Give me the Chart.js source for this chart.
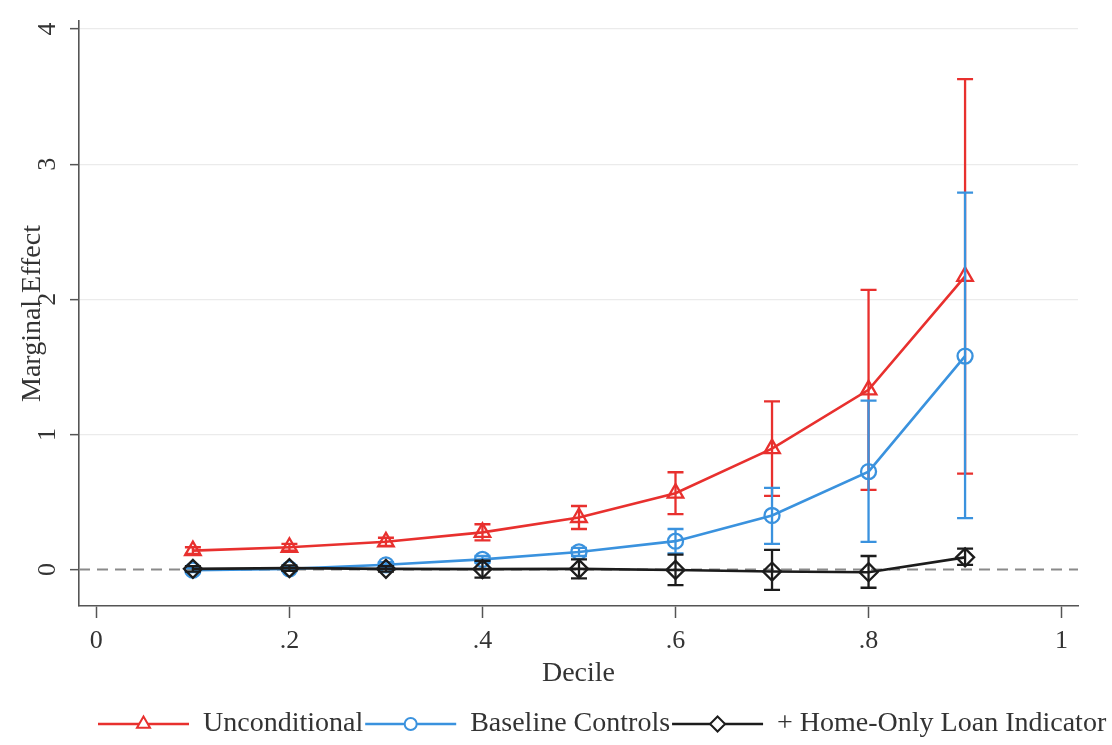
<!DOCTYPE html>
<html>
<head>
<meta charset="utf-8">
<script src="https://cdn.jsdelivr.net/npm/chart.js@4"></script>
<style>
html,body{margin:0;padding:0;background:#fff;}
#wrap{width:1112px;height:745px;position:relative;}
</style>
</head>
<body>
<div id="wrap"><canvas id="c"></canvas></div>
<script>
// ---- data ----
const deciles = [0.1, 0.2, 0.3, 0.4, 0.5, 0.6, 0.7, 0.8, 0.9];

const uncondMean = [0.14, 0.165, 0.205, 0.275, 0.385, 0.565, 0.895, 1.33, 2.17];
const uncondLo   = [0.115, 0.14, 0.175, 0.215, 0.30, 0.41, 0.545, 0.59, 0.71];
const uncondHi   = [0.165, 0.19, 0.235, 0.335, 0.47, 0.72, 1.245, 2.07, 3.63];

const baseMean = [-0.005, 0.005, 0.035, 0.075, 0.13, 0.21, 0.40, 0.725, 1.58];
const baseLo   = [-0.02, -0.01, 0.015, 0.05, 0.10, 0.12, 0.19, 0.205, 0.38];
const baseHi   = [0.01, 0.02, 0.055, 0.10, 0.16, 0.30, 0.605, 1.25, 2.79];

const homeMean = [0.005, 0.01, 0.005, 0.003, 0.005, -0.003, -0.015, -0.02, 0.09];
const homeLo   = [-0.015, -0.01, -0.015, -0.06, -0.065, -0.115, -0.15, -0.135, 0.035];
const homeHi   = [0.025, 0.03, 0.025, 0.065, 0.075, 0.11, 0.145, 0.10, 0.155];

const seriesLabels = ['Unconditional', 'Baseline Controls', '+ Home-Only Loan Indicator'];
const xTickValues = [0, 0.2, 0.4, 0.6, 0.8, 1];
const xTickLabels = ['0', '.2', '.4', '.6', '.8', '1'];
const yTickValues = [0, 1, 2, 3, 4];
const yTickLabels = ['0', '1', '2', '3', '4'];
const xTitle = 'Decile';
const yTitle = 'Marginal Effect';

// ---- styles ----
const FONT = '"Liberation Serif", "DejaVu Serif", serif';
const TXT = '#333333';
const AX = '#555555';
const RED = '#e8302e';
const BLUE = '#3a92de';
const BLACK = '#1c1c1c';

function pts(means){ return deciles.map((x,i)=>({x:x, y:means[i]})); }

const datasets = [
  {label: seriesLabels[0], data: pts(uncondMean), lo: uncondLo, hi: uncondHi,
   borderColor: RED, backgroundColor: 'rgba(0,0,0,0)', pointStyle: 'triangle',
   pointRadius: 9, pointBorderWidth: 2.3, borderWidth: 2.6, order: 3},
  {label: seriesLabels[1], data: pts(baseMean), lo: baseLo, hi: baseHi,
   borderColor: BLUE, backgroundColor: 'rgba(0,0,0,0)', pointStyle: 'circle',
   pointRadius: 7.5, pointBorderWidth: 2.3, borderWidth: 2.6, order: 2},
  {label: seriesLabels[2], data: pts(homeMean), lo: homeLo, hi: homeHi,
   borderColor: BLACK, backgroundColor: 'rgba(0,0,0,0)', pointStyle: 'rectRot',
   pointRadius: 9, pointBorderWidth: 2.3, borderWidth: 2.6, order: 1}
];

const errorBars = {
  id: 'errorBars',
  beforeDatasetDraw(chart, args) {
    const ds = chart.data.datasets[args.index];
    const xs = chart.scales.x, ys = chart.scales.y, ctx = chart.ctx;
    ctx.save();
    ctx.strokeStyle = ds.borderColor;
    ctx.lineWidth = 2.3;
    const cap = 8;
    ds.data.forEach((p, i) => {
      const px = xs.getPixelForValue(p.x);
      const yl = ys.getPixelForValue(ds.lo[i]);
      const yh = ys.getPixelForValue(ds.hi[i]);
      ctx.beginPath();
      ctx.moveTo(px, yl); ctx.lineTo(px, yh);
      ctx.moveTo(px - cap, yl); ctx.lineTo(px + cap, yl);
      ctx.moveTo(px - cap, yh); ctx.lineTo(px + cap, yh);
      ctx.stroke();
    });
    ctx.restore();
  }
};

const zeroLine = {
  id: 'zeroLine',
  beforeDatasetsDraw(chart) {
    const {ctx, chartArea} = chart;
    const y0 = chart.scales.y.getPixelForValue(0);
    ctx.save();
    ctx.strokeStyle = '#8a8a8a';
    ctx.lineWidth = 1.8;
    ctx.setLineDash([11, 7]);
    ctx.beginPath();
    ctx.moveTo(chartArea.left, y0); ctx.lineTo(chartArea.right, y0);
    ctx.stroke();
    ctx.restore();
  }
};

const rotatedYLabels = {
  id: 'rotatedYLabels',
  afterDraw(chart) {
    const ys = chart.scales.y, ctx = chart.ctx;
    ctx.save();
    ctx.fillStyle = TXT;
    ctx.font = '26px ' + FONT;
    ctx.textAlign = 'center';
    ctx.textBaseline = 'middle';
    yTickValues.forEach((v, i) => {
      const py = ys.getPixelForValue(v);
      ctx.save();
      ctx.translate(ys.right - 31, py);
      ctx.rotate(-Math.PI / 2);
      ctx.fillText(yTickLabels[i], 0, 0);
      ctx.restore();
    });
    ctx.restore();
  }
};

function drawMarker(ctx, style, x, y, r) {
  ctx.beginPath();
  if (style === 'triangle') {
    ctx.moveTo(x, y - r);
    ctx.lineTo(x + r * 0.866, y + r * 0.5);
    ctx.lineTo(x - r * 0.866, y + r * 0.5);
    ctx.closePath();
  } else if (style === 'circle') {
    ctx.arc(x, y, r, 0, Math.PI * 2);
  } else {
    ctx.moveTo(x, y - r); ctx.lineTo(x + r, y); ctx.lineTo(x, y + r); ctx.lineTo(x - r, y); ctx.closePath();
  }
}

const customLegend = {
  id: 'customLegend',
  afterDraw(chart) {
    const ctx = chart.ctx;
    ctx.save();
    ctx.font = '28px ' + FONT;
    ctx.textBaseline = 'middle';
    ctx.textAlign = 'left';
    const y = 724;
    let x = 98;
    const lineLen = 91;
    chart.data.datasets.forEach(ds => {
      ctx.strokeStyle = ds.borderColor;
      ctx.lineWidth = 2.5;
      ctx.beginPath(); ctx.moveTo(x, y); ctx.lineTo(x + lineLen, y); ctx.stroke();
      ctx.fillStyle = '#fff';
      drawMarker(ctx, ds.pointStyle, x + lineLen / 2, y, ds.pointStyle === 'circle' ? 6 : 7.5);
      ctx.fill(); ctx.lineWidth = 2; ctx.stroke();
      ctx.fillStyle = TXT;
      const tx = x + lineLen + 14;
      ctx.fillText(ds.label, tx, y);
      x = tx + ctx.measureText(ds.label).width + 2;
    });
    ctx.restore();
  }
};

new Chart(document.getElementById('c'), {
  type: 'line',
  data: { datasets: datasets },
  plugins: [errorBars, zeroLine, rotatedYLabels, customLegend],
  options: {
    responsive: true,
    maintainAspectRatio: false,
    animation: false,
    layout: { padding: { left: 0, right: 34, top: 13, bottom: 49 } },
    plugins: { legend: { display: false }, tooltip: { enabled: false } },
    scales: {
      x: {
        type: 'linear', min: -0.018, max: 1.017,
        afterBuildTicks: s => { s.ticks = xTickValues.map(v => ({value: v})); },
        afterFit: s => { s.height = 90; },
        ticks: {
          autoSkip: false, maxRotation: 0, padding: 8, color: TXT,
          font: { family: FONT, size: 26 },
          callback: (v) => { const i = xTickValues.indexOf(v); return i >= 0 ? xTickLabels[i] : ''; }
        },
        grid: { drawOnChartArea: false, drawTicks: true, tickLength: 12, tickColor: AX, tickWidth: 1.5 },
        border: { display: true, color: AX, width: 1.6 },
        title: { display: true, text: xTitle, color: TXT, font: { family: FONT, size: 28 }, padding: { top: 0, bottom: 6 } }
      },
      y: {
        type: 'linear', min: -0.27, max: 4.06,
        afterBuildTicks: s => { s.ticks = yTickValues.map(v => ({value: v})); },
        afterFit: s => { s.width = 79; },
        ticks: { color: 'rgba(0,0,0,0)', font: { family: FONT, size: 25 }, padding: 6,
                 callback: (v) => { const i = yTickValues.indexOf(v); return i >= 0 ? yTickLabels[i] : ''; } },
        grid: {
          drawOnChartArea: true, drawTicks: true, tickLength: 9, tickColor: AX, tickWidth: 1.5,
          color: c => (c.tick && c.tick.value === 0) ? 'rgba(0,0,0,0)' : '#ebebeb', lineWidth: 1.3
        },
        border: { display: true, color: AX, width: 1.6 },
        title: { display: true, text: yTitle, color: TXT, font: { family: FONT, size: 28 }, padding: { top: 16, bottom: 0 } }
      }
    }
  }
});
</script>
</body>
</html>
